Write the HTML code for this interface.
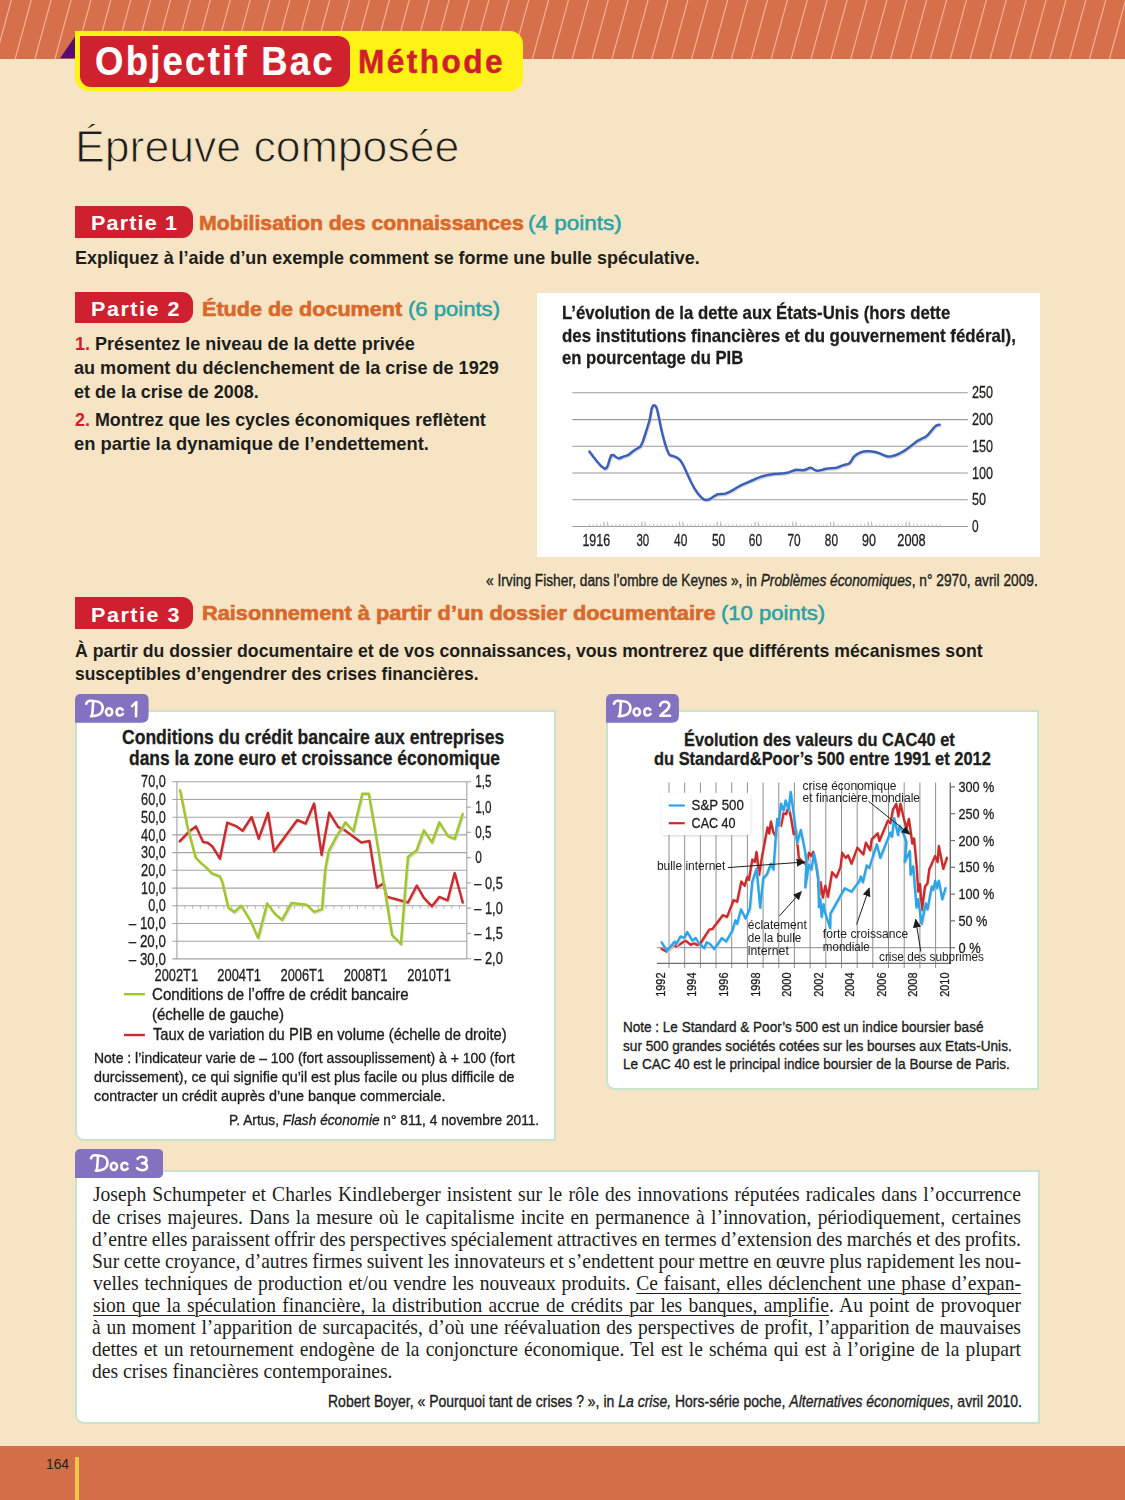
<!DOCTYPE html>
<html lang="fr"><head><meta charset="utf-8"><title>Objectif Bac – Épreuve composée</title>
<style>
html,body{margin:0;padding:0}
body{width:1125px;height:1500px;position:relative;overflow:hidden;background:#f6e4c4;font-family:"Liberation Sans",sans-serif;color:#1d1d1b}
.abs{position:absolute;display:block}
svg.abs{will-change:transform}
.t{position:absolute;white-space:nowrap;line-height:1;transform-origin:0 0}
.t u{text-decoration-thickness:1px;text-underline-offset:2.5px}
.band{position:absolute;left:0;width:1125px;background:#d5704a}
.tag{position:absolute;background:#cf2030;border-radius:0 11px 11px 0}
.doc{position:absolute;background:#8a7bc7;border-radius:9px 9px 9px 0}
.box{position:absolute;background:#fff;border:2px solid #c8e3cb;box-sizing:border-box;border-radius:0 0 0 9px}
</style></head>
<body>
<div class="band" style="top:0;height:58.8px"></div>
<svg class="abs" style="left:0;top:0" width="1125" height="58.8" viewBox="0 0 1125 58.8"><path d="M11.3 0L-4.8 59M31.2 0L15.1 59M51.1 0L34.9 59M71.0 0L54.9 59M90.9 0L74.8 59M110.8 0L94.7 59M130.7 0L114.6 59M150.6 0L134.5 59M170.5 0L154.4 59M190.4 0L174.3 59M210.3 0L194.2 59M230.2 0L214.1 59M250.1 0L234.0 59M270.0 0L253.9 59M289.9 0L273.8 59M309.8 0L293.7 59M329.7 0L313.6 59M349.6 0L333.4 59M369.5 0L353.3 59M389.4 0L373.2 59M409.3 0L393.1 59M429.2 0L413.0 59M449.1 0L432.9 59M469.0 0L452.8 59M488.9 0L472.7 59M508.8 0L492.6 59M528.7 0L512.5 59M548.6 0L532.4 59M568.5 0L552.3 59M588.4 0L572.2 59M608.3 0L592.1 59M628.2 0L612.0 59M648.1 0L631.9 59M668.0 0L651.8 59M687.9 0L671.7 59M707.8 0L691.6 59M727.7 0L711.5 59M747.6 0L731.4 59M767.5 0L751.3 59M787.4 0L771.2 59M807.3 0L791.1 59M827.2 0L811.0 59M847.1 0L830.9 59M867.0 0L850.8 59M886.9 0L870.7 59M906.8 0L890.6 59M926.7 0L910.5 59M946.6 0L930.4 59M966.5 0L950.3 59M986.4 0L970.2 59M1006.3 0L990.1 59M1026.2 0L1010.0 59M1046.1 0L1029.9 59M1066.0 0L1049.8 59M1085.9 0L1069.7 59M1105.8 0L1089.6 59M1125.7 0L1109.5 59M1145.6 0L1129.4 59" stroke="#f3ad90" stroke-width="1.25" fill="none"/></svg>
<svg class="abs" style="left:55px;top:30px" width="25" height="30" viewBox="55 30 25 30"><path d="M75 36.5L75 58.2L60 58.2z" fill="#5b0b70"/></svg>
<div class="abs" style="left:75px;top:31px;width:448px;height:60px;background:#fff215;border-radius:0 13px 13px 14px"></div>
<div class="abs" style="left:79.5px;top:35.5px;width:270.5px;height:51.5px;background:#cf212e;border-radius:0 12px 12px 11px"></div>
<div class="band" style="top:1446px;height:54px;background:#d46e49"></div>
<div class="abs" style="left:75px;top:1457px;width:4px;height:43px;background:#ecc846"></div>
<div class="tag" style="left:75px;top:206.1px;width:117.9px;height:31.6px"></div>
<div class="tag" style="left:75px;top:291.6px;width:117.9px;height:31.7px"></div>
<div class="tag" style="left:75px;top:597.4px;width:117.9px;height:31.9px"></div>
<div class="abs" style="left:537px;top:293px;width:503px;height:264px;background:#fff"></div>
<div class="box" style="left:75px;top:710px;width:480.5px;height:430.7px"></div>
<div class="box" style="left:606px;top:710px;width:433px;height:379.5px"></div>
<div class="box" style="left:75px;top:1170px;width:964.5px;height:254px"></div>
<svg class="abs" style="left:74.9px;top:693.7px" width="73.6" height="28.8" viewBox="0 0 73.6 28.8">
<path d="M0,28.8V6Q0,0 6,0H67.6Q73.6,0 73.6,6V21.8Q73.6,28.8 66.6,28.8H0z" fill="#8273c0"/>
<g transform="translate(11.2,0.0)" fill="none" stroke="#fff" stroke-width="2.6" stroke-linecap="round" stroke-linejoin="round">
<path d="M0,9.7C0.7,7.7 2.3,6.6 4.5,6.8C7.5,7.1 10,7.0 12.3,7.9C15.3,9.1 16.6,11.5 16.5,14.2C16.4,17.6 14.2,20.2 11.2,21.2C9,21.9 6.8,22.2 4.8,22.2"/>
<path d="M6.9,8.2C6.7,13 6.3,17.5 5.9,21.8"/>
<ellipse cx="22.9" cy="17.9" rx="3.1" ry="3.6"/>
<path d="M36.4,15.8C35.6,14.6 34.5,14.2 33.4,14.3C31.6,14.5 30.4,16 30.4,17.9C30.4,19.9 31.7,21.4 33.5,21.5C34.8,21.5 35.9,21 36.7,20"/>
<path d="M45.9,12.1L50.1,8.2L49.8,22.2"/>
</g></svg>
<svg class="abs" style="left:605.8px;top:693.7px" width="72.9" height="28.8" viewBox="0 0 72.9 28.8">
<path d="M0,28.8V6Q0,0 6,0H66.9Q72.9,0 72.9,6V21.8Q72.9,28.8 65.9,28.8H0z" fill="#8273c0"/>
<g transform="translate(7.9,0.0)" fill="none" stroke="#fff" stroke-width="2.6" stroke-linecap="round" stroke-linejoin="round">
<path d="M0,9.7C0.7,7.7 2.3,6.6 4.5,6.8C7.5,7.1 10,7.0 12.3,7.9C15.3,9.1 16.6,11.5 16.5,14.2C16.4,17.6 14.2,20.2 11.2,21.2C9,21.9 6.8,22.2 4.8,22.2"/>
<path d="M6.9,8.2C6.7,13 6.3,17.5 5.9,21.8"/>
<ellipse cx="22.9" cy="17.9" rx="3.1" ry="3.6"/>
<path d="M36.4,15.8C35.6,14.6 34.5,14.2 33.4,14.3C31.6,14.5 30.4,16 30.4,17.9C30.4,19.9 31.7,21.4 33.5,21.5C34.8,21.5 35.9,21 36.7,20"/>
<path d="M46.3,11.7C46.6,9.2 48.5,7.7 51,7.7C53.6,7.7 55.4,9.3 55.4,11.5C55.4,13.6 53.8,15.3 51.5,17.2C49.8,18.6 47.8,20.2 46.4,21.8L56.2,21.8"/>
</g></svg>
<svg class="abs" style="left:74.9px;top:1149.2px" width="88.4" height="29.3" viewBox="0 0 88.4 29.3">
<path d="M0,29.3V6Q0,0 6,0H82.4Q88.4,0 88.4,6V22.3Q88.4,29.3 81.4,29.3H0z" fill="#8273c0"/>
<g transform="translate(16.0,-0.5)" fill="none" stroke="#fff" stroke-width="2.6" stroke-linecap="round" stroke-linejoin="round">
<path d="M0,9.7C0.7,7.7 2.3,6.6 4.5,6.8C7.5,7.1 10,7.0 12.3,7.9C15.3,9.1 16.6,11.5 16.5,14.2C16.4,17.6 14.2,20.2 11.2,21.2C9,21.9 6.8,22.2 4.8,22.2"/>
<path d="M6.9,8.2C6.7,13 6.3,17.5 5.9,21.8"/>
<ellipse cx="22.9" cy="17.9" rx="3.1" ry="3.6"/>
<path d="M36.4,15.8C35.6,14.6 34.5,14.2 33.4,14.3C31.6,14.5 30.4,16 30.4,17.9C30.4,19.9 31.7,21.4 33.5,21.5C34.8,21.5 35.9,21 36.7,20"/>
<path d="M46.7,10.3C47.6,8.9 49.3,8.2 51.2,8.3C53.8,8.5 55.5,9.8 55.5,11.6C55.5,13.4 53.8,14.7 51.2,14.8C54,14.9 56,16.3 56,18.4C56,20.5 53.9,21.8 51.2,21.7C49,21.6 47.2,21 46.1,19.6"/>
</g></svg>
<svg class="abs" style="left:537px;top:293px" width="503" height="264" viewBox="537 293 503 264">
<line x1="572.4" y1="392.8" x2="967.8" y2="392.8" stroke="#9a9a9a" stroke-width="1.1"/>
<line x1="572.4" y1="419.6" x2="967.8" y2="419.6" stroke="#9a9a9a" stroke-width="1.1"/>
<line x1="572.4" y1="446.3" x2="967.8" y2="446.3" stroke="#9a9a9a" stroke-width="1.1"/>
<line x1="572.4" y1="473.0" x2="967.8" y2="473.0" stroke="#9a9a9a" stroke-width="1.1"/>
<line x1="572.4" y1="499.7" x2="967.8" y2="499.7" stroke="#9a9a9a" stroke-width="1.1"/>
<line x1="572.4" y1="526.5" x2="967.8" y2="526.5" stroke="#9a9a9a" stroke-width="1.1"/>
<path d="M589.4 526.5v-2.6M593.2 526.5v-2.6M596.9 526.5v-2.6M600.7 526.5v-2.6M604.5 526.5v-2.6M608.2 526.5v-2.6M612.0 526.5v-2.6M615.8 526.5v-2.6M619.6 526.5v-2.6M623.3 526.5v-2.6M627.1 526.5v-2.6M630.9 526.5v-2.6M634.6 526.5v-2.6M638.4 526.5v-2.6M642.2 526.5v-2.6M645.9 526.5v-2.6M649.7 526.5v-2.6M653.5 526.5v-2.6M657.3 526.5v-2.6M661.0 526.5v-2.6M664.8 526.5v-2.6M668.6 526.5v-2.6M672.3 526.5v-2.6M676.1 526.5v-2.6M679.9 526.5v-2.6M683.6 526.5v-2.6M687.4 526.5v-2.6M691.2 526.5v-2.6M695.0 526.5v-2.6M698.7 526.5v-2.6M702.5 526.5v-2.6M706.3 526.5v-2.6M710.0 526.5v-2.6M713.8 526.5v-2.6M717.6 526.5v-2.6M721.3 526.5v-2.6M725.1 526.5v-2.6M728.9 526.5v-2.6M732.7 526.5v-2.6M736.4 526.5v-2.6M740.2 526.5v-2.6M744.0 526.5v-2.6M747.7 526.5v-2.6M751.5 526.5v-2.6M755.3 526.5v-2.6M759.0 526.5v-2.6M762.8 526.5v-2.6M766.6 526.5v-2.6M770.4 526.5v-2.6M774.1 526.5v-2.6M777.9 526.5v-2.6M781.7 526.5v-2.6M785.4 526.5v-2.6M789.2 526.5v-2.6M793.0 526.5v-2.6M796.7 526.5v-2.6M800.5 526.5v-2.6M804.3 526.5v-2.6M808.1 526.5v-2.6M811.8 526.5v-2.6M815.6 526.5v-2.6M819.4 526.5v-2.6M823.1 526.5v-2.6M826.9 526.5v-2.6M830.7 526.5v-2.6M834.4 526.5v-2.6M838.2 526.5v-2.6M842.0 526.5v-2.6M845.8 526.5v-2.6M849.5 526.5v-2.6M853.3 526.5v-2.6M857.1 526.5v-2.6M860.8 526.5v-2.6M864.6 526.5v-2.6M868.4 526.5v-2.6M872.1 526.5v-2.6M875.9 526.5v-2.6M879.7 526.5v-2.6M883.5 526.5v-2.6M887.2 526.5v-2.6M891.0 526.5v-2.6M894.8 526.5v-2.6M898.5 526.5v-2.6M902.3 526.5v-2.6M906.1 526.5v-2.6M909.8 526.5v-2.6M913.6 526.5v-2.6M917.4 526.5v-2.6M921.2 526.5v-2.6M924.9 526.5v-2.6M928.7 526.5v-2.6M932.5 526.5v-2.6M936.2 526.5v-2.6M940.0 526.5v-2.6" stroke="#c4c4c4" stroke-width="1"/>
<path d="M604.0 526.5v-5M607.3 526.5v-5M641.8 526.5v-5M645.0 526.5v-5M679.5 526.5v-5M682.8 526.5v-5M717.2 526.5v-5M720.5 526.5v-5M755.0 526.5v-5M758.3 526.5v-5M792.8 526.5v-5M796.0 526.5v-5M830.5 526.5v-5M833.8 526.5v-5M868.2 526.5v-5M871.5 526.5v-5M906.0 526.5v-5M909.3 526.5v-5" stroke="#bdbdbd" stroke-width="1.1"/>
<polyline points="589.4,451.5 593.5,457.0 597.3,461.7 601.0,466.0 604.8,468.8 606.5,468.0 608.0,465.0 609.6,459.5 611.2,455.3 613.3,454.9 616.0,457.0 618.7,458.5 621.3,457.5 624.0,456.4 626.6,455.6 629.3,454.3 632.0,452.0 634.7,450.0 637.7,448.2 640.6,446.4 643.0,441.0 645.3,434.0 647.5,427.0 649.6,420.1 650.7,414.0 651.7,408.4 652.8,406.0 653.9,405.2 655.2,405.6 656.4,407.3 657.8,412.5 659.2,419.1 660.8,427.0 662.4,434.0 664.5,442.0 666.7,448.9 668.3,452.8 669.9,455.3 672.0,455.8 674.1,456.4 676.8,457.6 679.5,459.6 681.6,462.3 683.7,466.0 685.8,470.7 688.0,475.6 691.0,482.0 694.4,488.4 697.5,493.0 700.8,496.9 703.5,499.2 706.1,500.1 708.8,499.6 711.5,498.0 714.7,495.8 717.9,494.2 721.5,493.9 725.3,493.7 729.0,492.2 732.8,490.1 737.0,487.5 741.3,485.2 746.5,482.8 752.0,480.5 757.3,478.2 762.7,476.2 768.0,474.9 773.3,474.1 778.7,473.7 784.0,473.3 788.5,472.4 792.5,471.0 796.0,469.8 799.7,470.0 803.5,470.3 806.7,469.2 809.9,467.7 811.8,468.0 814.5,469.8 817.3,470.9 821.5,470.0 825.9,468.8 830.5,468.3 835.5,468.1 838.7,467.0 841.9,465.6 845.0,464.7 848.3,463.9 850.0,462.8 851.8,460.0 853.6,457.0 856.8,454.3 860.0,452.6 862.7,451.7 865.3,451.3 869.5,451.3 873.9,451.7 877.0,452.5 880.3,453.6 884.0,455.3 887.7,456.6 891.5,456.3 895.2,455.3 899.5,453.5 903.7,451.1 907.5,448.5 911.2,445.7 914.4,443.2 917.6,440.8 921.3,438.9 925.1,437.2 927.8,435.0 930.4,431.9 933.0,428.7 935.7,425.9 937.7,425.0 939.6,424.8" fill="none" stroke="#c9c9c9" stroke-width="2.4" stroke-linejoin="round" stroke-linecap="round" transform="translate(0.8,1.3)" opacity=".7"/>
<polyline points="589.4,451.5 593.5,457.0 597.3,461.7 601.0,466.0 604.8,468.8 606.5,468.0 608.0,465.0 609.6,459.5 611.2,455.3 613.3,454.9 616.0,457.0 618.7,458.5 621.3,457.5 624.0,456.4 626.6,455.6 629.3,454.3 632.0,452.0 634.7,450.0 637.7,448.2 640.6,446.4 643.0,441.0 645.3,434.0 647.5,427.0 649.6,420.1 650.7,414.0 651.7,408.4 652.8,406.0 653.9,405.2 655.2,405.6 656.4,407.3 657.8,412.5 659.2,419.1 660.8,427.0 662.4,434.0 664.5,442.0 666.7,448.9 668.3,452.8 669.9,455.3 672.0,455.8 674.1,456.4 676.8,457.6 679.5,459.6 681.6,462.3 683.7,466.0 685.8,470.7 688.0,475.6 691.0,482.0 694.4,488.4 697.5,493.0 700.8,496.9 703.5,499.2 706.1,500.1 708.8,499.6 711.5,498.0 714.7,495.8 717.9,494.2 721.5,493.9 725.3,493.7 729.0,492.2 732.8,490.1 737.0,487.5 741.3,485.2 746.5,482.8 752.0,480.5 757.3,478.2 762.7,476.2 768.0,474.9 773.3,474.1 778.7,473.7 784.0,473.3 788.5,472.4 792.5,471.0 796.0,469.8 799.7,470.0 803.5,470.3 806.7,469.2 809.9,467.7 811.8,468.0 814.5,469.8 817.3,470.9 821.5,470.0 825.9,468.8 830.5,468.3 835.5,468.1 838.7,467.0 841.9,465.6 845.0,464.7 848.3,463.9 850.0,462.8 851.8,460.0 853.6,457.0 856.8,454.3 860.0,452.6 862.7,451.7 865.3,451.3 869.5,451.3 873.9,451.7 877.0,452.5 880.3,453.6 884.0,455.3 887.7,456.6 891.5,456.3 895.2,455.3 899.5,453.5 903.7,451.1 907.5,448.5 911.2,445.7 914.4,443.2 917.6,440.8 921.3,438.9 925.1,437.2 927.8,435.0 930.4,431.9 933.0,428.7 935.7,425.9 937.7,425.0 939.6,424.8" fill="none" stroke="#3b60b9" stroke-width="2.5" stroke-linejoin="round" stroke-linecap="round"/>
<text x="972.0" y="398.4" font-size="16.5" fill="#1d1d1b" textLength="21.0" lengthAdjust="spacingAndGlyphs" stroke="#1d1d1b" stroke-width="0.3">250</text>
<text x="972.0" y="425.2" font-size="16.5" fill="#1d1d1b" textLength="21.0" lengthAdjust="spacingAndGlyphs" stroke="#1d1d1b" stroke-width="0.3">200</text>
<text x="972.0" y="451.9" font-size="16.5" fill="#1d1d1b" textLength="21.0" lengthAdjust="spacingAndGlyphs" stroke="#1d1d1b" stroke-width="0.3">150</text>
<text x="972.0" y="478.6" font-size="16.5" fill="#1d1d1b" textLength="21.0" lengthAdjust="spacingAndGlyphs" stroke="#1d1d1b" stroke-width="0.3">100</text>
<text x="972.0" y="505.3" font-size="16.5" fill="#1d1d1b" textLength="14.0" lengthAdjust="spacingAndGlyphs" stroke="#1d1d1b" stroke-width="0.3">50</text>
<text x="972.0" y="532.1" font-size="16.5" fill="#1d1d1b" textLength="6.6" lengthAdjust="spacingAndGlyphs" stroke="#1d1d1b" stroke-width="0.3">0</text>
<text x="582.4" y="546.2" font-size="16.5" fill="#1d1d1b" textLength="27.7" lengthAdjust="spacingAndGlyphs" stroke="#1d1d1b" stroke-width="0.3">1916</text>
<text x="636.4" y="546.2" font-size="16.5" fill="#1d1d1b" textLength="12.8" lengthAdjust="spacingAndGlyphs" stroke="#1d1d1b" stroke-width="0.3">30</text>
<text x="674.1" y="546.2" font-size="16.5" fill="#1d1d1b" textLength="13.3" lengthAdjust="spacingAndGlyphs" stroke="#1d1d1b" stroke-width="0.3">40</text>
<text x="711.9" y="546.2" font-size="16.5" fill="#1d1d1b" textLength="13.4" lengthAdjust="spacingAndGlyphs" stroke="#1d1d1b" stroke-width="0.3">50</text>
<text x="748.8" y="546.2" font-size="16.5" fill="#1d1d1b" textLength="13.2" lengthAdjust="spacingAndGlyphs" stroke="#1d1d1b" stroke-width="0.3">60</text>
<text x="787.5" y="546.2" font-size="16.5" fill="#1d1d1b" textLength="13.2" lengthAdjust="spacingAndGlyphs" stroke="#1d1d1b" stroke-width="0.3">70</text>
<text x="824.8" y="546.2" font-size="16.5" fill="#1d1d1b" textLength="13.2" lengthAdjust="spacingAndGlyphs" stroke="#1d1d1b" stroke-width="0.3">80</text>
<text x="862.1" y="546.2" font-size="16.5" fill="#1d1d1b" textLength="13.9" lengthAdjust="spacingAndGlyphs" stroke="#1d1d1b" stroke-width="0.3">90</text>
<text x="897.3" y="546.2" font-size="16.5" fill="#1d1d1b" textLength="28.4" lengthAdjust="spacingAndGlyphs" stroke="#1d1d1b" stroke-width="0.3">2008</text>
</svg>
<svg class="abs" style="left:110px;top:770px" width="420" height="220" viewBox="110 770 420 220">
<line x1="172.3" y1="781.8" x2="466.8" y2="781.8" stroke="#a3a3a3" stroke-width="1.1"/>
<line x1="172.3" y1="799.5" x2="466.8" y2="799.5" stroke="#a3a3a3" stroke-width="1.1"/>
<line x1="172.3" y1="817.2" x2="466.8" y2="817.2" stroke="#a3a3a3" stroke-width="1.1"/>
<line x1="172.3" y1="834.9" x2="466.8" y2="834.9" stroke="#a3a3a3" stroke-width="1.1"/>
<line x1="172.3" y1="852.6" x2="466.8" y2="852.6" stroke="#a3a3a3" stroke-width="1.1"/>
<line x1="172.3" y1="870.3" x2="466.8" y2="870.3" stroke="#a3a3a3" stroke-width="1.1"/>
<line x1="172.3" y1="888.1" x2="466.8" y2="888.1" stroke="#a3a3a3" stroke-width="1.1"/>
<line x1="172.3" y1="905.8" x2="466.8" y2="905.8" stroke="#a3a3a3" stroke-width="1.1"/>
<line x1="172.3" y1="923.5" x2="466.8" y2="923.5" stroke="#a3a3a3" stroke-width="1.1"/>
<line x1="172.3" y1="941.2" x2="466.8" y2="941.2" stroke="#a3a3a3" stroke-width="1.1"/>
<line x1="172.3" y1="958.9" x2="466.8" y2="958.9" stroke="#a3a3a3" stroke-width="1.1"/>
<line x1="176.9" y1="781.8" x2="176.9" y2="959" stroke="#a3a3a3" stroke-width="1.1"/>
<line x1="466.8" y1="781.8" x2="466.8" y2="959" stroke="#a3a3a3" stroke-width="1.1"/>
<line x1="466.8" y1="781.8" x2="471" y2="781.8" stroke="#a3a3a3" stroke-width="1.1"/>
<line x1="466.8" y1="807.1" x2="471" y2="807.1" stroke="#a3a3a3" stroke-width="1.1"/>
<line x1="466.8" y1="832.3" x2="471" y2="832.3" stroke="#a3a3a3" stroke-width="1.1"/>
<line x1="466.8" y1="857.6" x2="471" y2="857.6" stroke="#a3a3a3" stroke-width="1.1"/>
<line x1="466.8" y1="882.9" x2="471" y2="882.9" stroke="#a3a3a3" stroke-width="1.1"/>
<line x1="466.8" y1="908.1" x2="471" y2="908.1" stroke="#a3a3a3" stroke-width="1.1"/>
<line x1="466.8" y1="933.4" x2="471" y2="933.4" stroke="#a3a3a3" stroke-width="1.1"/>
<line x1="466.8" y1="958.7" x2="471" y2="958.7" stroke="#a3a3a3" stroke-width="1.1"/>
<path d="M184.8 905.8v3M192.6 905.8v3M200.4 905.8v3M208.3 905.8v3M216.1 905.8v3M224.0 905.8v3M231.8 905.8v3M239.7 905.8v3M247.5 905.8v3M255.4 905.8v3M263.2 905.8v3M271.1 905.8v3M278.9 905.8v3M286.8 905.8v3M294.7 905.8v3M302.5 905.8v3M310.4 905.8v3M318.2 905.8v3M326.1 905.8v3M333.9 905.8v3M341.8 905.8v3M349.6 905.8v3M357.5 905.8v3M365.3 905.8v3M373.2 905.8v3M381.0 905.8v3M388.9 905.8v3M396.7 905.8v3M404.6 905.8v3M412.4 905.8v3M420.3 905.8v3M428.1 905.8v3M436.0 905.8v3M443.8 905.8v3M451.7 905.8v3M459.5 905.8v3" stroke="#b5b5b5" stroke-width="1"/>
<polyline points="179.7,841.3 190.0,830.7 196.0,826.4 203.1,841.9 207.7,842.8 212.4,846.5 219.9,858.7 227.3,822.6 236.7,826.4 242.6,830.7 251.6,817.0 258.7,838.7 268.0,812.9 274.0,851.6 297.3,820.0 305.7,823.6 314.1,803.6 321.6,854.9 329.2,812.6 338.0,826.9 345.5,830.7 361.3,842.4 369.4,840.9 376.8,887.6 383.7,883.3 386.5,896.6 408.0,902.5 416.8,885.7 423.9,897.9 431.9,906.3 439.4,896.9 447.6,900.3 454.7,873.0 462.7,902.5" fill="none" stroke="#cfcfcf" stroke-width="2.3" stroke-linejoin="round" transform="translate(1,1.4)" opacity=".7"/>
<polyline points="179.7,841.3 190.0,830.7 196.0,826.4 203.1,841.9 207.7,842.8 212.4,846.5 219.9,858.7 227.3,822.6 236.7,826.4 242.6,830.7 251.6,817.0 258.7,838.7 268.0,812.9 274.0,851.6 297.3,820.0 305.7,823.6 314.1,803.6 321.6,854.9 329.2,812.6 338.0,826.9 345.5,830.7 361.3,842.4 369.4,840.9 376.8,887.6 383.7,883.3 386.5,896.6 408.0,902.5 416.8,885.7 423.9,897.9 431.9,906.3 439.4,896.9 447.6,900.3 454.7,873.0 462.7,902.5" fill="none" stroke="#cc2b2e" stroke-width="2.5" stroke-linejoin="round" stroke-linecap="round"/>
<polyline points="180.1,790.2 187.2,826.0 195.6,857.4 200.3,862.4 205.9,867.1 211.5,873.2 219.9,876.4 222.3,882.0 228.3,907.8 234.2,911.9 241.3,905.7 250.7,921.2 258.1,938.0 267.1,903.5 274.9,913.7 282.0,919.9 291.4,903.1 306.7,904.8 314.1,911.9 322.0,909.1 325.3,868.9 328.7,851.2 336.1,837.2 345.5,822.3 353.3,831.2 362.3,793.7 368.8,793.7 375.3,831.6 384.7,889.5 392.1,935.2 400.9,944.0 405.2,889.5 408.0,856.8 416.4,850.6 423.9,830.3 431.9,842.4 439.4,822.3 448.1,836.3 454.7,838.7 462.7,813.9" fill="none" stroke="#cfcfcf" stroke-width="2.3" stroke-linejoin="round" transform="translate(1,1.4)" opacity=".7"/>
<polyline points="180.1,790.2 187.2,826.0 195.6,857.4 200.3,862.4 205.9,867.1 211.5,873.2 219.9,876.4 222.3,882.0 228.3,907.8 234.2,911.9 241.3,905.7 250.7,921.2 258.1,938.0 267.1,903.5 274.9,913.7 282.0,919.9 291.4,903.1 306.7,904.8 314.1,911.9 322.0,909.1 325.3,868.9 328.7,851.2 336.1,837.2 345.5,822.3 353.3,831.2 362.3,793.7 368.8,793.7 375.3,831.6 384.7,889.5 392.1,935.2 400.9,944.0 405.2,889.5 408.0,856.8 416.4,850.6 423.9,830.3 431.9,842.4 439.4,822.3 448.1,836.3 454.7,838.7 462.7,813.9" fill="none" stroke="#a0c72a" stroke-width="2.5" stroke-linejoin="round" stroke-linecap="round"/>
<text x="141.1" y="787.4" font-size="16.3" fill="#1d1d1b" textLength="24.7" lengthAdjust="spacingAndGlyphs" stroke="#1d1d1b" stroke-width="0.3">70,0</text>
<text x="141.1" y="805.1" font-size="16.3" fill="#1d1d1b" textLength="24.7" lengthAdjust="spacingAndGlyphs" stroke="#1d1d1b" stroke-width="0.3">60,0</text>
<text x="141.1" y="822.8" font-size="16.3" fill="#1d1d1b" textLength="24.7" lengthAdjust="spacingAndGlyphs" stroke="#1d1d1b" stroke-width="0.3">50,0</text>
<text x="141.1" y="840.5" font-size="16.3" fill="#1d1d1b" textLength="24.7" lengthAdjust="spacingAndGlyphs" stroke="#1d1d1b" stroke-width="0.3">40,0</text>
<text x="141.1" y="858.2" font-size="16.3" fill="#1d1d1b" textLength="24.7" lengthAdjust="spacingAndGlyphs" stroke="#1d1d1b" stroke-width="0.3">30,0</text>
<text x="141.1" y="875.9" font-size="16.3" fill="#1d1d1b" textLength="24.7" lengthAdjust="spacingAndGlyphs" stroke="#1d1d1b" stroke-width="0.3">20,0</text>
<text x="141.1" y="893.7" font-size="16.3" fill="#1d1d1b" textLength="24.7" lengthAdjust="spacingAndGlyphs" stroke="#1d1d1b" stroke-width="0.3">10,0</text>
<text x="148.2" y="911.4" font-size="16.3" fill="#1d1d1b" textLength="17.6" lengthAdjust="spacingAndGlyphs" stroke="#1d1d1b" stroke-width="0.3">0,0</text>
<text x="128.8" y="929.1" font-size="16.3" fill="#1d1d1b" textLength="37.0" lengthAdjust="spacingAndGlyphs" stroke="#1d1d1b" stroke-width="0.3">– 10,0</text>
<text x="128.8" y="946.8" font-size="16.3" fill="#1d1d1b" textLength="37.0" lengthAdjust="spacingAndGlyphs" stroke="#1d1d1b" stroke-width="0.3">– 20,0</text>
<text x="128.8" y="964.5" font-size="16.3" fill="#1d1d1b" textLength="37.0" lengthAdjust="spacingAndGlyphs" stroke="#1d1d1b" stroke-width="0.3">– 30,0</text>
<text x="475.2" y="787.4" font-size="16.3" fill="#1d1d1b" textLength="16.2" lengthAdjust="spacingAndGlyphs" stroke="#1d1d1b" stroke-width="0.3">1,5</text>
<text x="475.2" y="812.7" font-size="16.3" fill="#1d1d1b" textLength="16.2" lengthAdjust="spacingAndGlyphs" stroke="#1d1d1b" stroke-width="0.3">1,0</text>
<text x="475.2" y="837.9" font-size="16.3" fill="#1d1d1b" textLength="16.2" lengthAdjust="spacingAndGlyphs" stroke="#1d1d1b" stroke-width="0.3">0,5</text>
<text x="475.2" y="863.2" font-size="16.3" fill="#1d1d1b" textLength="6.6" lengthAdjust="spacingAndGlyphs" stroke="#1d1d1b" stroke-width="0.3">0</text>
<text x="474.3" y="888.5" font-size="16.3" fill="#1d1d1b" textLength="28.5" lengthAdjust="spacingAndGlyphs" stroke="#1d1d1b" stroke-width="0.3">– 0,5</text>
<text x="474.3" y="913.8" font-size="16.3" fill="#1d1d1b" textLength="28.5" lengthAdjust="spacingAndGlyphs" stroke="#1d1d1b" stroke-width="0.3">– 1,0</text>
<text x="474.3" y="939.0" font-size="16.3" fill="#1d1d1b" textLength="28.5" lengthAdjust="spacingAndGlyphs" stroke="#1d1d1b" stroke-width="0.3">– 1,5</text>
<text x="474.3" y="964.3" font-size="16.3" fill="#1d1d1b" textLength="28.5" lengthAdjust="spacingAndGlyphs" stroke="#1d1d1b" stroke-width="0.3">– 2,0</text>
<text x="154.6" y="980.7" font-size="16" fill="#1d1d1b" textLength="43.4" lengthAdjust="spacingAndGlyphs" stroke="#1d1d1b" stroke-width="0.3">2002T1</text>
<text x="217.3" y="980.7" font-size="16" fill="#1d1d1b" textLength="43.7" lengthAdjust="spacingAndGlyphs" stroke="#1d1d1b" stroke-width="0.3">2004T1</text>
<text x="280.6" y="980.7" font-size="16" fill="#1d1d1b" textLength="43.4" lengthAdjust="spacingAndGlyphs" stroke="#1d1d1b" stroke-width="0.3">2006T1</text>
<text x="343.7" y="980.7" font-size="16" fill="#1d1d1b" textLength="43.8" lengthAdjust="spacingAndGlyphs" stroke="#1d1d1b" stroke-width="0.3">2008T1</text>
<text x="407.3" y="980.7" font-size="16" fill="#1d1d1b" textLength="43.5" lengthAdjust="spacingAndGlyphs" stroke="#1d1d1b" stroke-width="0.3">2010T1</text>
</svg>
<svg class="abs" style="left:120px;top:990px" width="30" height="50" viewBox="120 990 30 50"><line x1="124" y1="994.2" x2="144.9" y2="994.2" stroke="#a0c72a" stroke-width="2.4"/><line x1="124" y1="1035" x2="144.9" y2="1035" stroke="#cc2b2e" stroke-width="2.4"/></svg>
<svg class="abs" style="left:640px;top:775px" width="380" height="230" viewBox="640 775 380 230">
<defs><filter id="sh" x="-10%" y="-10%" width="120%" height="130%"><feGaussianBlur stdDeviation="1.6"/></filter><marker id="ah" viewBox="0 0 10 10" refX="9" refY="5" markerWidth="9" markerHeight="9" markerUnits="userSpaceOnUse" orient="auto"><path d="M0 0.5L10 5L0 9.5z" fill="#1d1d1b"/></marker></defs>
<line x1="669.0" y1="782.5" x2="669.0" y2="968" stroke="#8e8e8e" stroke-width="1"/>
<line x1="684.7" y1="782.5" x2="684.7" y2="968" stroke="#8e8e8e" stroke-width="1"/>
<line x1="700.4" y1="782.5" x2="700.4" y2="968" stroke="#8e8e8e" stroke-width="1"/>
<line x1="716.0" y1="782.5" x2="716.0" y2="968" stroke="#8e8e8e" stroke-width="1"/>
<line x1="731.7" y1="782.5" x2="731.7" y2="968" stroke="#8e8e8e" stroke-width="1"/>
<line x1="747.4" y1="782.5" x2="747.4" y2="968" stroke="#8e8e8e" stroke-width="1"/>
<line x1="763.1" y1="782.5" x2="763.1" y2="968" stroke="#8e8e8e" stroke-width="1"/>
<line x1="778.8" y1="782.5" x2="778.8" y2="968" stroke="#8e8e8e" stroke-width="1"/>
<line x1="794.4" y1="782.5" x2="794.4" y2="968" stroke="#8e8e8e" stroke-width="1"/>
<line x1="810.1" y1="782.5" x2="810.1" y2="968" stroke="#8e8e8e" stroke-width="1"/>
<line x1="825.8" y1="782.5" x2="825.8" y2="968" stroke="#8e8e8e" stroke-width="1"/>
<line x1="841.5" y1="782.5" x2="841.5" y2="968" stroke="#8e8e8e" stroke-width="1"/>
<line x1="857.2" y1="782.5" x2="857.2" y2="968" stroke="#8e8e8e" stroke-width="1"/>
<line x1="872.8" y1="782.5" x2="872.8" y2="968" stroke="#8e8e8e" stroke-width="1"/>
<line x1="888.5" y1="782.5" x2="888.5" y2="968" stroke="#8e8e8e" stroke-width="1"/>
<line x1="904.2" y1="782.5" x2="904.2" y2="968" stroke="#8e8e8e" stroke-width="1"/>
<line x1="919.9" y1="782.5" x2="919.9" y2="968" stroke="#8e8e8e" stroke-width="1"/>
<line x1="935.6" y1="782.5" x2="935.6" y2="968" stroke="#8e8e8e" stroke-width="1"/>
<line x1="656.9" y1="947.7" x2="950.3" y2="947.7" stroke="#8e8e8e" stroke-width="1"/>
<line x1="656.9" y1="963.4" x2="950.8" y2="963.4" stroke="#6d6d6d" stroke-width="1.4"/>
<line x1="950.3" y1="782.5" x2="950.3" y2="964" stroke="#6d6d6d" stroke-width="1.4"/>
<line x1="950.3" y1="786.9" x2="955" y2="786.9" stroke="#6d6d6d" stroke-width="1.2"/>
<line x1="950.3" y1="813.7" x2="955" y2="813.7" stroke="#6d6d6d" stroke-width="1.2"/>
<line x1="950.3" y1="840.5" x2="955" y2="840.5" stroke="#6d6d6d" stroke-width="1.2"/>
<line x1="950.3" y1="867.3" x2="955" y2="867.3" stroke="#6d6d6d" stroke-width="1.2"/>
<line x1="950.3" y1="894.1" x2="955" y2="894.1" stroke="#6d6d6d" stroke-width="1.2"/>
<line x1="950.3" y1="920.9" x2="955" y2="920.9" stroke="#6d6d6d" stroke-width="1.2"/>
<line x1="950.3" y1="947.7" x2="955" y2="947.7" stroke="#6d6d6d" stroke-width="1.2"/>
<polyline points="661.6,949.0 667.0,951.6 673.8,944.8 676.3,946.5 685.6,940.6 690.7,944.8 694.0,943.1 696.6,944.8 700.0,944.0 709.2,929.6 712.6,928.8 722.8,915.2 727.0,916.9 733.7,900.0 737.1,901.7 741.3,881.5 744.7,885.7 747.2,877.2 748.9,879.8 752.3,859.5 754.8,862.0 756.5,851.9 759.1,874.7 762.4,854.4 767.5,827.4 769.2,833.3 770.9,821.5 773.4,832.5 776.0,836.7 777.6,819.0 781.0,825.7 783.6,813.1 786.1,813.9 788.6,806.3 791.2,819.0 793.7,834.2 796.2,830.8 798.8,857.8 803.0,862.0 806.4,864.6 808.9,852.8 811.4,856.1 813.1,851.9 815.6,861.2 817.3,871.3 817.7,873.0 819.4,895.0 820.6,882.3 822.8,897.5 825.3,885.7 827.9,896.7 832.1,872.2 836.3,877.2 840.5,867.1 842.2,852.8 845.6,857.8 848.1,855.3 851.5,863.7 857.4,847.7 863.3,854.4 865.9,842.6 870.1,850.2 871.8,839.2 877.7,833.3 879.4,840.9 887.8,820.7 890.4,823.2 892.9,809.7 896.3,803.8 898.3,816.4 900.5,803.8 903.9,819.0 906.4,828.3 908.9,819.0 912.3,843.5 914.0,838.4 916.5,864.6 918.2,891.6 919.9,884.0 921.9,910.2 925.0,886.5 927.5,883.2 929.2,869.6 935.1,856.1 937.6,862.0 938.8,846.0 943.2,868.8 946.9,857.8" fill="none" stroke="#d4d4d4" stroke-width="2" stroke-linejoin="round" transform="translate(0.9,1.3)" opacity=".8"/>
<polyline points="661.6,949.0 667.0,951.6 673.8,944.8 676.3,946.5 685.6,940.6 690.7,944.8 694.0,943.1 696.6,944.8 700.0,944.0 709.2,929.6 712.6,928.8 722.8,915.2 727.0,916.9 733.7,900.0 737.1,901.7 741.3,881.5 744.7,885.7 747.2,877.2 748.9,879.8 752.3,859.5 754.8,862.0 756.5,851.9 759.1,874.7 762.4,854.4 767.5,827.4 769.2,833.3 770.9,821.5 773.4,832.5 776.0,836.7 777.6,819.0 781.0,825.7 783.6,813.1 786.1,813.9 788.6,806.3 791.2,819.0 793.7,834.2 796.2,830.8 798.8,857.8 803.0,862.0 806.4,864.6 808.9,852.8 811.4,856.1 813.1,851.9 815.6,861.2 817.3,871.3 817.7,873.0 819.4,895.0 820.6,882.3 822.8,897.5 825.3,885.7 827.9,896.7 832.1,872.2 836.3,877.2 840.5,867.1 842.2,852.8 845.6,857.8 848.1,855.3 851.5,863.7 857.4,847.7 863.3,854.4 865.9,842.6 870.1,850.2 871.8,839.2 877.7,833.3 879.4,840.9 887.8,820.7 890.4,823.2 892.9,809.7 896.3,803.8 898.3,816.4 900.5,803.8 903.9,819.0 906.4,828.3 908.9,819.0 912.3,843.5 914.0,838.4 916.5,864.6 918.2,891.6 919.9,884.0 921.9,910.2 925.0,886.5 927.5,883.2 929.2,869.6 935.1,856.1 937.6,862.0 938.8,846.0 943.2,868.8 946.9,857.8" fill="none" stroke="#cd2a2b" stroke-width="2.4" stroke-linejoin="round" stroke-linecap="round"/>
<polyline points="661.6,942.3 667.0,950.7 674.6,941.4 676.3,944.0 680.5,936.4 684.2,938.0 687.3,932.1 692.4,940.6 695.7,938.0 698.3,942.3 704.2,948.2 706.7,942.3 710.1,944.0 714.3,949.0 721.9,938.0 726.1,941.4 732.0,931.3 735.4,920.3 737.1,923.7 741.0,909.3 745.6,918.6 749.8,908.5 752.3,881.5 756.5,868.8 760.2,907.6 763.3,878.1 766.7,874.7 770.9,863.7 773.4,869.6 777.1,819.0 778.5,825.7 781.0,803.8 783.6,810.5 785.6,800.4 788.6,809.7 790.7,792.0 793.7,813.9 797.1,842.6 800.8,830.0 804.7,849.4 806.4,861.2 805.2,887.4 808.9,864.6 811.4,869.6 814.0,853.6 816.5,868.0 818.2,879.8 819.0,906.8 818.6,906.8 820.3,899.2 821.6,916.9 823.6,904.3 825.3,913.6 830.1,927.9 830.4,913.6 844.8,888.2 851.5,891.6 859.1,881.5 860.8,876.4 862.8,882.3 866.7,865.4 869.2,868.0 876.8,844.3 880.2,857.8 890.4,832.5 892.0,836.7 894.2,818.1 898.0,835.0 899.6,825.7 903.9,835.0 906.4,841.8 904.7,862.0 909.8,851.1 910.6,874.7 913.2,866.3 916.5,907.6 918.2,899.2 921.6,923.7 925.8,903.4 927.5,909.3 931.7,886.5 933.4,889.9 935.1,880.6 936.8,888.2 938.8,880.6 942.2,899.2 945.6,888.2" fill="none" stroke="#d4d4d4" stroke-width="2" stroke-linejoin="round" transform="translate(0.9,1.3)" opacity=".8"/>
<polyline points="661.6,942.3 667.0,950.7 674.6,941.4 676.3,944.0 680.5,936.4 684.2,938.0 687.3,932.1 692.4,940.6 695.7,938.0 698.3,942.3 704.2,948.2 706.7,942.3 710.1,944.0 714.3,949.0 721.9,938.0 726.1,941.4 732.0,931.3 735.4,920.3 737.1,923.7 741.0,909.3 745.6,918.6 749.8,908.5 752.3,881.5 756.5,868.8 760.2,907.6 763.3,878.1 766.7,874.7 770.9,863.7 773.4,869.6 777.1,819.0 778.5,825.7 781.0,803.8 783.6,810.5 785.6,800.4 788.6,809.7 790.7,792.0 793.7,813.9 797.1,842.6 800.8,830.0 804.7,849.4 806.4,861.2 805.2,887.4 808.9,864.6 811.4,869.6 814.0,853.6 816.5,868.0 818.2,879.8 819.0,906.8 818.6,906.8 820.3,899.2 821.6,916.9 823.6,904.3 825.3,913.6 830.1,927.9 830.4,913.6 844.8,888.2 851.5,891.6 859.1,881.5 860.8,876.4 862.8,882.3 866.7,865.4 869.2,868.0 876.8,844.3 880.2,857.8 890.4,832.5 892.0,836.7 894.2,818.1 898.0,835.0 899.6,825.7 903.9,835.0 906.4,841.8 904.7,862.0 909.8,851.1 910.6,874.7 913.2,866.3 916.5,907.6 918.2,899.2 921.6,923.7 925.8,903.4 927.5,909.3 931.7,886.5 933.4,889.9 935.1,880.6 936.8,888.2 938.8,880.6 942.2,899.2 945.6,888.2" fill="none" stroke="#2aa5ea" stroke-width="2.4" stroke-linejoin="round" stroke-linecap="round"/>
<rect x="662" y="794.5" width="88.5" height="41" rx="4" fill="#9a9a9a" opacity=".55" filter="url(#sh)"/>
<rect x="661.1" y="792.8" width="89.5" height="42.2" rx="4" fill="#fff"/>
<line x1="668.7" y1="805.5" x2="684.8" y2="805.5" stroke="#2aa5ea" stroke-width="2.2"/>
<line x1="668.7" y1="823.2" x2="684.8" y2="823.2" stroke="#cd2a2b" stroke-width="2.2"/>
<text x="691.6" y="810.4" font-size="15.3" fill="#1d1d1b" textLength="52.2" lengthAdjust="spacingAndGlyphs" stroke="#1d1d1b" stroke-width="0.3">S&amp;P 500</text>
<text x="691.6" y="828.4" font-size="15.3" fill="#1d1d1b" textLength="44.0" lengthAdjust="spacingAndGlyphs" stroke="#1d1d1b" stroke-width="0.3">CAC 40</text>
<text x="958.4" y="791.9" font-size="15.3" fill="#1d1d1b" textLength="35.9" lengthAdjust="spacingAndGlyphs" stroke="#1d1d1b" stroke-width="0.3">300 %</text>
<text x="958.4" y="818.7" font-size="15.3" fill="#1d1d1b" textLength="35.9" lengthAdjust="spacingAndGlyphs" stroke="#1d1d1b" stroke-width="0.3">250 %</text>
<text x="958.4" y="845.5" font-size="15.3" fill="#1d1d1b" textLength="35.9" lengthAdjust="spacingAndGlyphs" stroke="#1d1d1b" stroke-width="0.3">200 %</text>
<text x="958.4" y="872.3" font-size="15.3" fill="#1d1d1b" textLength="35.9" lengthAdjust="spacingAndGlyphs" stroke="#1d1d1b" stroke-width="0.3">150 %</text>
<text x="958.4" y="899.1" font-size="15.3" fill="#1d1d1b" textLength="35.9" lengthAdjust="spacingAndGlyphs" stroke="#1d1d1b" stroke-width="0.3">100 %</text>
<text x="958.4" y="925.9" font-size="15.3" fill="#1d1d1b" textLength="29.0" lengthAdjust="spacingAndGlyphs" stroke="#1d1d1b" stroke-width="0.3">50 %</text>
<text x="958.4" y="952.7" font-size="15.3" fill="#1d1d1b" textLength="22.2" lengthAdjust="spacingAndGlyphs" stroke="#1d1d1b" stroke-width="0.3">0 %</text>
<text x="802.5" y="789.6" font-size="13.7" fill="#1d1d1b" textLength="94.0" lengthAdjust="spacingAndGlyphs" >crise économique</text>
<text x="802.5" y="801.6" font-size="13.7" fill="#1d1d1b" textLength="117.5" lengthAdjust="spacingAndGlyphs" >et financière mondiale</text>
<text x="656.9" y="869.8" font-size="13.7" fill="#1d1d1b" textLength="68.4" lengthAdjust="spacingAndGlyphs" >bulle internet</text>
<text x="747.8" y="928.8" font-size="13.7" fill="#1d1d1b" textLength="59.0" lengthAdjust="spacingAndGlyphs" >éclatement</text>
<text x="747.8" y="941.6" font-size="13.7" fill="#1d1d1b" textLength="53.5" lengthAdjust="spacingAndGlyphs" >de la bulle</text>
<text x="747.8" y="954.7" font-size="13.7" fill="#1d1d1b" textLength="41.0" lengthAdjust="spacingAndGlyphs" >internet</text>
<text x="822.8" y="938.2" font-size="13.7" fill="#1d1d1b" textLength="85.5" lengthAdjust="spacingAndGlyphs" >forte croissance</text>
<text x="822.8" y="950.9" font-size="13.7" fill="#1d1d1b" textLength="47.0" lengthAdjust="spacingAndGlyphs" >mondiale</text>
<text x="879.0" y="961.0" font-size="13.7" fill="#1d1d1b" textLength="105.0" lengthAdjust="spacingAndGlyphs" >crise des subprimes</text>
<line x1="868.4" y1="801.2" x2="909.8" y2="834.2" stroke="#1d1d1b" stroke-width="1" marker-end="url(#ah)"/>
<line x1="727.8" y1="867.6" x2="804.7" y2="862.0" stroke="#1d1d1b" stroke-width="1" marker-end="url(#ah)"/>
<line x1="779.3" y1="916.1" x2="801.3" y2="891.6" stroke="#1d1d1b" stroke-width="1" marker-end="url(#ah)"/>
<line x1="856.6" y1="924.5" x2="869.2" y2="888.2" stroke="#1d1d1b" stroke-width="1" marker-end="url(#ah)"/>
<line x1="920.8" y1="951.6" x2="915.7" y2="919.5" stroke="#1d1d1b" stroke-width="1" marker-end="url(#ah)"/>
<text transform="translate(664.8,996.8) rotate(-90)" font-size="13.6" textLength="24.3" lengthAdjust="spacingAndGlyphs" fill="#1d1d1b" stroke="#1d1d1b" stroke-width="0.3">1992</text>
<text transform="translate(696.4,996.8) rotate(-90)" font-size="13.6" textLength="24.3" lengthAdjust="spacingAndGlyphs" fill="#1d1d1b" stroke="#1d1d1b" stroke-width="0.3">1994</text>
<text transform="translate(727.9,996.8) rotate(-90)" font-size="13.6" textLength="24.3" lengthAdjust="spacingAndGlyphs" fill="#1d1d1b" stroke="#1d1d1b" stroke-width="0.3">1996</text>
<text transform="translate(759.5,996.8) rotate(-90)" font-size="13.6" textLength="24.3" lengthAdjust="spacingAndGlyphs" fill="#1d1d1b" stroke="#1d1d1b" stroke-width="0.3">1998</text>
<text transform="translate(791.0,996.8) rotate(-90)" font-size="13.6" textLength="24.3" lengthAdjust="spacingAndGlyphs" fill="#1d1d1b" stroke="#1d1d1b" stroke-width="0.3">2000</text>
<text transform="translate(822.6,996.8) rotate(-90)" font-size="13.6" textLength="24.3" lengthAdjust="spacingAndGlyphs" fill="#1d1d1b" stroke="#1d1d1b" stroke-width="0.3">2002</text>
<text transform="translate(854.1,996.8) rotate(-90)" font-size="13.6" textLength="24.3" lengthAdjust="spacingAndGlyphs" fill="#1d1d1b" stroke="#1d1d1b" stroke-width="0.3">2004</text>
<text transform="translate(885.7,996.8) rotate(-90)" font-size="13.6" textLength="24.3" lengthAdjust="spacingAndGlyphs" fill="#1d1d1b" stroke="#1d1d1b" stroke-width="0.3">2006</text>
<text transform="translate(917.2,996.8) rotate(-90)" font-size="13.6" textLength="24.3" lengthAdjust="spacingAndGlyphs" fill="#1d1d1b" stroke="#1d1d1b" stroke-width="0.3">2008</text>
<text transform="translate(948.8,996.8) rotate(-90)" font-size="13.6" textLength="24.3" lengthAdjust="spacingAndGlyphs" fill="#1d1d1b" stroke="#1d1d1b" stroke-width="0.3">2010</text>
</svg>
<div class="t" style="left:94.8px;top:40.0px;font-size:41.5px;transform:scaleX(0.8800);letter-spacing:2.54px;font-weight:700;color:#fff;-webkit-text-stroke:0.2px #fff;">Objectif Bac</div>
<div class="t" style="left:358.4px;top:46.0px;font-size:32.5px;transform:scaleX(0.9700);letter-spacing:2.55px;font-weight:700;color:#cf1f2e;-webkit-text-stroke:0.5px #cf1f2e;">Méthode</div>
<div class="t" style="left:74.7px;top:125.0px;font-size:44.5px;transform:scaleX(1.0024);-webkit-text-stroke:1px #f6e4c4;">Épreuve composée</div>
<div class="t" style="left:90.5px;top:214.0px;font-size:19.6px;transform:scaleX(1.1000);letter-spacing:1.05px;font-weight:700;color:#fff;">Partie 1</div>
<div class="t" style="left:199.2px;top:214.0px;font-size:19.4px;transform:scaleX(1.0959);font-weight:700;color:#d9682b;-webkit-text-stroke:0.6px #d9682b;">Mobilisation des connaissances</div>
<div class="t" style="left:528.2px;top:214.0px;font-size:19.4px;transform:scaleX(1.1595);color:#2aa3a6;-webkit-text-stroke:0.5px #2aa3a6;">(4 points)</div>
<div class="t" style="left:75.0px;top:250.0px;font-size:17.9px;transform:scaleX(1.0021);font-weight:700;">Expliquez à l’aide d’un exemple comment se forme une bulle spéculative.</div>
<div class="t" style="left:90.5px;top:300.0px;font-size:19.6px;transform:scaleX(1.1000);letter-spacing:1.39px;font-weight:700;color:#fff;">Partie 2</div>
<div class="t" style="left:201.8px;top:300.0px;font-size:19.4px;transform:scaleX(1.1123);font-weight:700;color:#d9682b;-webkit-text-stroke:0.6px #d9682b;">Étude de document</div>
<div class="t" style="left:408.3px;top:300.0px;font-size:19.4px;transform:scaleX(1.1380);color:#2aa3a6;-webkit-text-stroke:0.5px #2aa3a6;">(6 points)</div>
<div class="t" style="left:75.0px;top:336.0px;font-size:17.9px;transform:scaleX(1.0080);font-weight:700;"><span style="color:#cf1f2e">1.</span> Présentez le niveau de la dette privée</div>
<div class="t" style="left:74.3px;top:360.0px;font-size:17.9px;transform:scaleX(1.0100);font-weight:700;">au moment du déclenchement de la crise de 1929</div>
<div class="t" style="left:74.3px;top:384.0px;font-size:17.9px;transform:scaleX(1.0038);font-weight:700;">et de la crise de 2008.</div>
<div class="t" style="left:75.0px;top:412.0px;font-size:17.9px;transform:scaleX(1.0005);font-weight:700;"><span style="color:#cf1f2e">2.</span> Montrez que les cycles économiques reflètent</div>
<div class="t" style="left:74.3px;top:436.0px;font-size:17.9px;transform:scaleX(1.0259);font-weight:700;">en partie la dynamique de l’endettement.</div>
<div class="t" style="left:561.8px;top:303.0px;font-size:19px;transform:scaleX(0.8818);font-weight:700;-webkit-text-stroke:0.3px #1d1d1b;">L’évolution de la dette aux États-Unis (hors dette</div>
<div class="t" style="left:561.8px;top:326.0px;font-size:19px;transform:scaleX(0.8863);font-weight:700;-webkit-text-stroke:0.3px #1d1d1b;">des institutions financières et du gouvernement fédéral),</div>
<div class="t" style="left:561.8px;top:348.0px;font-size:19px;transform:scaleX(0.8756);font-weight:700;-webkit-text-stroke:0.3px #1d1d1b;">en pourcentage du PIB</div>
<div class="t" style="left:486.4px;top:573.0px;font-size:15.8px;transform:scaleX(0.8689);-webkit-text-stroke:0.35px #1d1d1b;">«&nbsp;Irving Fisher, dans l’ombre de Keynes&nbsp;», in <i>Problèmes économiques</i>, n° 2970, avril 2009.</div>
<div class="t" style="left:90.5px;top:606.0px;font-size:19.6px;transform:scaleX(1.1000);letter-spacing:1.39px;font-weight:700;color:#fff;">Partie 3</div>
<div class="t" style="left:202.2px;top:604.0px;font-size:19.4px;transform:scaleX(1.1213);font-weight:700;color:#d9682b;-webkit-text-stroke:0.6px #d9682b;">Raisonnement à partir d’un dossier documentaire</div>
<div class="t" style="left:721.1px;top:604.0px;font-size:19.4px;transform:scaleX(1.1367);color:#2aa3a6;-webkit-text-stroke:0.5px #2aa3a6;">(10 points)</div>
<div class="t" style="left:74.6px;top:643.0px;font-size:17.9px;transform:scaleX(0.9880);font-weight:700;">À partir du dossier documentaire et de vos connaissances, vous montrerez que différents mécanismes sont</div>
<div class="t" style="left:74.6px;top:666.0px;font-size:17.9px;transform:scaleX(0.9757);font-weight:700;">susceptibles d’engendrer des crises financières.</div>
<div class="t" style="left:122.0px;top:728.0px;font-size:19.8px;transform:scaleX(0.8874);font-weight:700;-webkit-text-stroke:0.3px #1d1d1b;">Conditions du crédit bancaire aux entreprises</div>
<div class="t" style="left:129.1px;top:749.0px;font-size:19.8px;transform:scaleX(0.8811);font-weight:700;-webkit-text-stroke:0.3px #1d1d1b;">dans la zone euro et croissance économique</div>
<div class="t" style="left:151.9px;top:986.0px;font-size:16.2px;transform:scaleX(0.9303);-webkit-text-stroke:0.35px #1d1d1b;">Conditions de l’offre de crédit bancaire</div>
<div class="t" style="left:151.9px;top:1006.0px;font-size:16.2px;transform:scaleX(0.9279);-webkit-text-stroke:0.35px #1d1d1b;">(échelle de gauche)</div>
<div class="t" style="left:152.8px;top:1026.0px;font-size:16.2px;transform:scaleX(0.9098);-webkit-text-stroke:0.35px #1d1d1b;">Taux de variation du PIB en volume (échelle de droite)</div>
<div class="t" style="left:93.6px;top:1050.0px;font-size:15.5px;transform:scaleX(0.9000);-webkit-text-stroke:0.35px #1d1d1b;">Note : l’indicateur varie de – 100 (fort assouplissement) à + 100 (fort</div>
<div class="t" style="left:93.6px;top:1069.0px;font-size:15.5px;transform:scaleX(0.9197);-webkit-text-stroke:0.35px #1d1d1b;">durcissement), ce qui signifie qu’il est plus facile ou plus difficile de</div>
<div class="t" style="left:93.6px;top:1088.0px;font-size:15.5px;transform:scaleX(0.9271);-webkit-text-stroke:0.35px #1d1d1b;">contracter un crédit auprès d’une banque commerciale.</div>
<div class="t" style="left:229.3px;top:1112.0px;font-size:15.5px;transform:scaleX(0.8840);-webkit-text-stroke:0.35px #1d1d1b;">P. Artus, <i>Flash économie</i> n° 811, 4 novembre 2011.</div>
<div class="t" style="left:684.2px;top:731.0px;font-size:18.2px;transform:scaleX(0.8987);font-weight:700;-webkit-text-stroke:0.3px #1d1d1b;">Évolution des valeurs du CAC40 et</div>
<div class="t" style="left:654.2px;top:750.0px;font-size:18.2px;transform:scaleX(0.9030);font-weight:700;-webkit-text-stroke:0.3px #1d1d1b;">du Standard&amp;Poor’s 500 entre 1991 et 2012</div>
<div class="t" style="left:623.4px;top:1019.0px;font-size:15.2px;transform:scaleX(0.8906);-webkit-text-stroke:0.35px #1d1d1b;">Note : Le Standard &amp; Poor’s 500 est un indice boursier basé</div>
<div class="t" style="left:623.4px;top:1038.0px;font-size:15.2px;transform:scaleX(0.8977);-webkit-text-stroke:0.35px #1d1d1b;">sur 500 grandes sociétés cotées sur les bourses aux Etats-Unis.</div>
<div class="t" style="left:623.4px;top:1056.0px;font-size:15.2px;transform:scaleX(0.8951);-webkit-text-stroke:0.35px #1d1d1b;">Le CAC 40 est le principal indice boursier de la Bourse de Paris.</div>
<div class="t" style="left:93.0px;top:1184.0px;font-size:20.3px;font-family:'Liberation Serif',serif;width:963.6px;white-space:normal;word-spacing:-1px;height:1.2em;overflow:hidden;text-align:justify;text-align-last:justify;transform:scaleX(0.9630);">Joseph Schumpeter et Charles Kindleberger insistent sur le rôle des innovations réputées radicales dans l’occurrence</div>
<div class="t" style="left:92.0px;top:1207.0px;font-size:20.3px;font-family:'Liberation Serif',serif;width:964.6px;white-space:normal;word-spacing:-1px;height:1.2em;overflow:hidden;text-align:justify;text-align-last:justify;transform:scaleX(0.9630);">de crises majeures. Dans la mesure où le capitalisme incite en permanence à l’innovation, périodiquement, certaines</div>
<div class="t" style="left:92.0px;top:1229.0px;font-size:20.3px;font-family:'Liberation Serif',serif;width:964.6px;white-space:normal;word-spacing:-1px;height:1.2em;overflow:hidden;text-align:justify;text-align-last:justify;transform:scaleX(0.9630);">d’entre elles paraissent offrir des perspectives spécialement attractives en termes d’extension des marchés et des profits.</div>
<div class="t" style="left:92.0px;top:1251.0px;font-size:20.3px;font-family:'Liberation Serif',serif;width:964.6px;white-space:normal;word-spacing:-1px;height:1.2em;overflow:hidden;text-align:justify;text-align-last:justify;transform:scaleX(0.9630);">Sur cette croyance, d’autres firmes suivent les innovateurs et s’endettent pour mettre en œuvre plus rapidement les nou-</div>
<div class="t" style="left:93.0px;top:1273.0px;font-size:20.3px;font-family:'Liberation Serif',serif;width:963.6px;white-space:normal;word-spacing:-1px;height:1.2em;overflow:hidden;text-align:justify;text-align-last:justify;transform:scaleX(0.9630);">velles techniques de production et/ou vendre les nouveaux produits. <u>Ce faisant, elles déclenchent une phase d’expan-</u></div>
<div class="t" style="left:93.0px;top:1295.0px;font-size:20.3px;font-family:'Liberation Serif',serif;width:963.6px;white-space:normal;word-spacing:-1px;height:1.2em;overflow:hidden;text-align:justify;text-align-last:justify;transform:scaleX(0.9630);"><u>sion que la spéculation financière, la distribution accrue de crédits par les banques, amplifie</u>. Au point de provoquer</div>
<div class="t" style="left:92.0px;top:1317.0px;font-size:20.3px;font-family:'Liberation Serif',serif;width:964.6px;white-space:normal;word-spacing:-1px;height:1.2em;overflow:hidden;text-align:justify;text-align-last:justify;transform:scaleX(0.9630);">à un moment l’apparition de surcapacités, d’où une réévaluation des perspectives de profit, l’apparition de mauvaises</div>
<div class="t" style="left:92.0px;top:1339.0px;font-size:20.3px;font-family:'Liberation Serif',serif;width:964.6px;white-space:normal;word-spacing:-1px;height:1.2em;overflow:hidden;text-align:justify;text-align-last:justify;transform:scaleX(0.9630);">dettes et un retournement endogène de la conjoncture économique. Tel est le schéma qui est à l’origine de la plupart</div>
<div class="t" style="left:92.0px;top:1361.0px;font-size:20.3px;font-family:'Liberation Serif',serif;transform:scaleX(0.9667);">des crises financières contemporaines.</div>
<div class="t" style="left:327.9px;top:1393.0px;font-size:16.3px;transform:scaleX(0.8596);-webkit-text-stroke:0.35px #1d1d1b;">Robert Boyer, «&nbsp;Pourquoi tant de crises&nbsp;?&nbsp;», in <i>La crise,</i> Hors-série poche, <i>Alternatives économiques</i>, avril 2010.</div>
<div class="t" style="left:46.1px;top:1456.0px;font-size:15px;transform:scaleX(0.9167);">164</div>
</body></html>
